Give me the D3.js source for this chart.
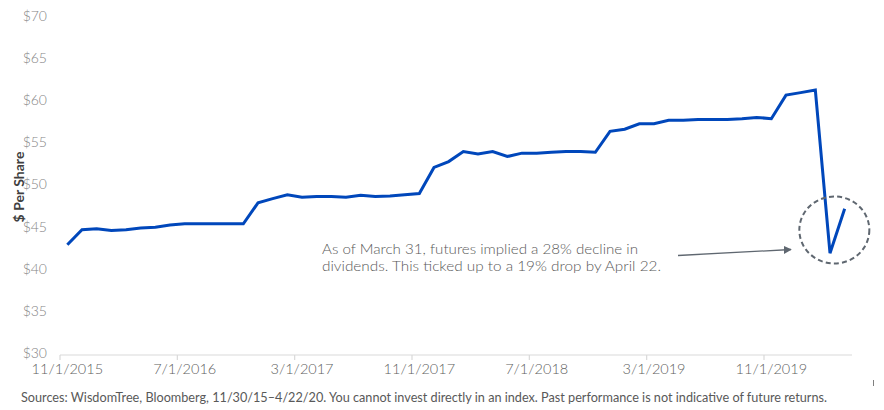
<!DOCTYPE html>
<html>
<head>
<meta charset="utf-8">
<script src="https://cdn.jsdelivr.net/npm/d3@7"></script>
<style>
  html, body { margin: 0; padding: 0; background: #ffffff; }
  svg { display: block; font-family: Lato, "Open Sans", sans-serif; }
</style>
</head>
<body>
<svg id="chart" width="884" height="410"></svg>
<script>
// ---- data ----
const firstMonth = new Date(2015, 10, 1);   // 11/1/2015
const lastMonth = new Date(2020, 3, 1);     // 4/1/2020
const months = d3.timeMonth.range(firstMonth, d3.timeMonth.offset(lastMonth, 1));

const dividendsPerShare = [
  43.1, 44.9, 45.0, 44.8, 44.9, 45.1, 45.2, 45.45, 45.6, 45.6,
  45.6, 45.6, 45.6, 48.1, 48.6, 49.05, 48.75, 48.85, 48.85, 48.75,
  49.0, 48.85, 48.9, 49.05, 49.2, 52.3, 53.0, 54.2, 53.9, 54.2,
  53.6, 54.0, 54.0, 54.1, 54.2, 54.2, 54.1, 56.6, 56.85, 57.5,
  57.5, 57.9, 57.9, 58.0, 58.0, 58.0, 58.1, 58.25, 58.1, 60.9,
  61.2, 61.5, 42.1, 47.4
];

const xTickLabels = ["11/1/2015", "7/1/2016", "3/1/2017", "11/1/2017", "7/1/2018", "3/1/2019", "11/1/2019"];
const yTickValues = [30, 35, 40, 45, 50, 55, 60, 65, 70];
const yTitle = "$ Per Share";
const annotationLines = [
  "As of March 31, futures implied a 28% decline in",
  "dividends. This ticked up to a 19% drop by April 22."
];
const footer = "Sources: WisdomTree, Bloomberg, 11/30/15\u20134/22/20. You cannot invest directly in an index. Past performance is not indicative of future returns.";

// ---- chart ----
const svg = d3.select("#chart");
const fmt = d3.timeFormat("%-m/%-d/%Y");
const data = months.map((m, i) => ({ key: fmt(m), value: dividendsPerShare[i] }));

const x = d3.scaleBand().domain(data.map(d => d.key)).range([60, 852]).padding(0);
const y = d3.scaleLinear().domain([30, 70]).range([355, 18.6]);

// y axis labels
const yAxis = d3.axisLeft(y).tickValues(yTickValues).tickSize(0).tickPadding(0)
  .tickFormat(d => "$" + d);
const yG = svg.append("g").attr("transform", "translate(47,-2.3)").call(yAxis);
yG.select(".domain").remove();
yG.selectAll("text").attr("fill", "#858585").style("font-size", "14px")
  .style("font-weight", "300")
  .style("font-family", "Lato, sans-serif");

// x axis
const xAxis = d3.axisBottom(x).tickValues(xTickLabels).tickSize(0).tickPadding(9);
const xG = svg.append("g").attr("transform", `translate(0,${y(30)})`).call(xAxis);
xG.select(".domain").attr("stroke", "#d9d9d9").attr("stroke-width", 1.2)
  .attr("d", `M${x.range()[0]},0H${x.range()[1]}`);
xG.selectAll("text").attr("fill", "#5f5f5f").style("font-size", "14.5px")
  .style("font-weight", "300")
  .style("font-family", "Lato, sans-serif");
// tick marks at category boundaries
xG.selectAll("line.tk").data(xTickLabels).enter().append("line")
  .attr("class", "tk")
  .attr("x1", d => x(d)).attr("x2", d => x(d))
  .attr("y1", 0).attr("y2", 5)
  .attr("stroke", "#d9d9d9").attr("stroke-width", 1.2);

// y title
svg.append("text")
  .attr("transform", "translate(24,187) rotate(-90)")
  .attr("text-anchor", "middle")
  .attr("fill", "#404040")
  .style("font-size", "14px").style("font-weight", "bold")
  .style("font-family", "Lato, sans-serif")
  .text(yTitle);

// line
const line = d3.line()
  .x(d => x(d.key) + x.bandwidth() / 2)
  .y(d => y(d.value));
svg.append("path").datum(data)
  .attr("fill", "none")
  .attr("stroke", "#0047bb")
  .attr("stroke-width", 3)
  .attr("stroke-linejoin", "miter")
  .attr("d", line);

// dashed ellipse around the last two points
const last = data.slice(-2);
const cx = d3.mean(last, d => x(d.key) + x.bandwidth() / 2) - 3;
svg.append("ellipse")
  .attr("cx", cx).attr("cy", 230)
  .attr("rx", 35).attr("ry", 33.5)
  .attr("fill", "none")
  .attr("stroke", "#5f6770")
  .attr("stroke-width", 2)
  .attr("stroke-dasharray", "5,3.2");

// arrow
svg.append("defs").append("marker")
  .attr("id", "arr").attr("viewBox", "0 0 10 10")
  .attr("refX", 9).attr("refY", 5)
  .attr("markerWidth", 8).attr("markerHeight", 8)
  .attr("markerUnits", "userSpaceOnUse")
  .attr("orient", "auto")
  .append("path").attr("d", "M0,0L10,5L0,10z").attr("fill", "#5f6770");
svg.append("line")
  .attr("x1", 678).attr("y1", 255.5)
  .attr("x2", 791).attr("y2", 249.5)
  .attr("stroke", "#5f6770").attr("stroke-width", 1.3)
  .attr("marker-end", "url(#arr)");

// annotation
const ann = svg.append("text")
  .attr("fill", "#5a5a5a")
  .style("font-size", "14.5px")
  .style("font-weight", "300")
  .style("font-family", "Lato, sans-serif");
ann.selectAll("tspan").data(annotationLines).enter().append("tspan")
  .attr("x", 322).attr("y", (d, i) => 254 + i * 17)
  .attr("textLength", (d, i) => i === 0 ? 316 : 339)
  .attr("lengthAdjust", "spacingAndGlyphs")
  .text(d => d);

// footer
svg.append("text")
  .attr("x", 21).attr("y", 402)
  .attr("fill", "#595959")
  .style("font-size", "12.5px")
  .style("font-family", "Lato, sans-serif")
  .attr("textLength", 806)
  .attr("lengthAdjust", "spacingAndGlyphs")
  .text(footer);

// small mark at right edge
svg.append("line")
  .attr("x1", 873.5).attr("x2", 873.5).attr("y1", 380).attr("y2", 386)
  .attr("stroke", "#7f7f7f").attr("stroke-width", 1);
</script>
</body>
</html>
